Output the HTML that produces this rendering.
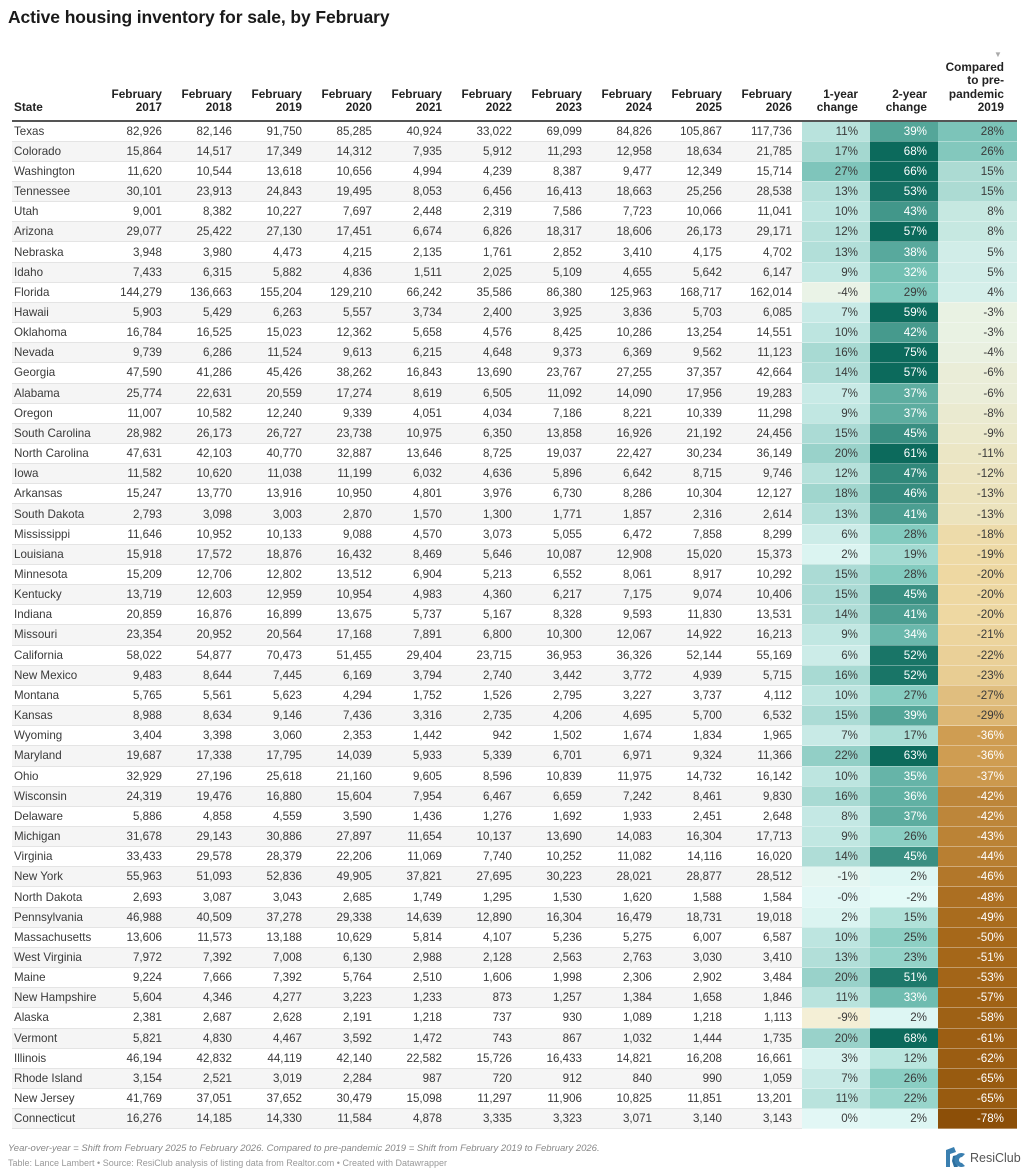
<!DOCTYPE html>
<html><head><meta charset="utf-8">
<style>
*{margin:0;padding:0;box-sizing:border-box}
body{width:1024px;height:1176px;background:#fff;font-family:"Liberation Sans",sans-serif;color:#333;position:relative;overflow:hidden}
h1{position:absolute;left:8px;top:7px;font-size:17.5px;font-weight:bold;color:#1a1a1a;letter-spacing:-0.1px}
.tri{position:absolute;left:994px;top:50px;font-size:8px;color:#aaa}
table{position:absolute;left:12px;top:56px;width:1005px;border-collapse:collapse;table-layout:fixed;font-size:11.6px}
thead th{font-weight:bold;color:#222;text-align:right;vertical-align:bottom;padding:0 10px 6px 0;line-height:13.2px;height:65px;border-bottom:2px solid #555;font-size:11.8px}
thead th.s{text-align:left;padding-left:2px}
tbody td{height:20.16px;text-align:right;padding:0 10px 0 0;border-bottom:1px solid #e4e4e4;white-space:nowrap;color:#3a3a3a}
tbody td.s{text-align:left;padding-left:2px}
tbody tr:nth-child(even){background:#f5f5f5}
td.ap,td.an,td.b,td.bb,td.cp,td.c1,td.c2,td.c3,td.c4{border-bottom:1px solid rgba(255,255,255,0.35)}
td.ap{background:color-mix(in srgb,#7fc5bb var(--p),#e2f7f5);padding-right:12px}
td.an{background:color-mix(in srgb,#f4efd6 var(--p),#e2f7f5);padding-right:12px}
td.b{background:color-mix(in srgb,#7cc7bb var(--p),#e4faf7);padding-right:11px}
td.bb{background:color-mix(in srgb,#0c6a5c var(--p),#7cc7bb);padding-right:11px}
td.cp{background:color-mix(in srgb,#7cc4b9 var(--p),#e4f6f2);padding-right:13px}
td.c1{background:color-mix(in srgb,#eed8a2 var(--p),#e8f6ef);padding-right:13px}
td.c2{background:color-mix(in srgb,#cf9d52 var(--p),#eed8a2);padding-right:13px}
td.c3{background:color-mix(in srgb,#a6681a var(--p),#cf9d52);padding-right:13px}
td.c4{background:color-mix(in srgb,#8c4f08 var(--p),#a6681a);padding-right:13px}
td.w{color:#fff}
.n1{position:absolute;left:8px;top:1143px;font-size:9.5px;font-style:italic;color:#888}
.n2{position:absolute;left:8px;top:1158px;font-size:9px;color:#999}
.logo{position:absolute;left:944px;top:1146px;width:22px;height:22px}
.lt{position:absolute;left:970px;top:1151px;font-size:12.5px;color:#555}
</style></head><body>
<h1>Active housing inventory for sale, by February</h1>
<div class="tri">▼</div>
<table>
<colgroup><col style="width:90px"><col style="width:70px"><col style="width:70px"><col style="width:70px"><col style="width:70px"><col style="width:70px"><col style="width:70px"><col style="width:70px"><col style="width:70px"><col style="width:70px"><col style="width:70px"><col style="width:68px"><col style="width:68px"><col style="width:79px"></colgroup>
<thead><tr><th class="s">State</th><th>February<br>2017</th><th>February<br>2018</th><th>February<br>2019</th><th>February<br>2020</th><th>February<br>2021</th><th>February<br>2022</th><th>February<br>2023</th><th>February<br>2024</th><th>February<br>2025</th><th>February<br>2026</th><th style="padding-right:12px">1-year<br>change</th><th style="padding-right:11px">2-year<br>change</th><th style="padding-right:13px">Compared<br>to pre-<br>pandemic<br>2019</th></tr></thead>
<tbody>
<tr><td class="s">Texas</td><td>82,926</td><td>82,146</td><td>91,750</td><td>85,285</td><td>40,924</td><td>33,022</td><td>69,099</td><td>84,826</td><td>105,867</td><td>117,736</td><td class="ap" style="--p:41%">11%</td><td class="bb w" style="--p:36%">39%</td><td class="cp" style="--p:100%">28%</td></tr>
<tr><td class="s">Colorado</td><td>15,864</td><td>14,517</td><td>17,349</td><td>14,312</td><td>7,935</td><td>5,912</td><td>11,293</td><td>12,958</td><td>18,634</td><td>21,785</td><td class="ap" style="--p:63%">17%</td><td class="bb w" style="--p:100%">68%</td><td class="cp" style="--p:93%">26%</td></tr>
<tr><td class="s">Washington</td><td>11,620</td><td>10,544</td><td>13,618</td><td>10,656</td><td>4,994</td><td>4,239</td><td>8,387</td><td>9,477</td><td>12,349</td><td>15,714</td><td class="ap" style="--p:100%">27%</td><td class="bb w" style="--p:100%">66%</td><td class="cp" style="--p:54%">15%</td></tr>
<tr><td class="s">Tennessee</td><td>30,101</td><td>23,913</td><td>24,843</td><td>19,495</td><td>8,053</td><td>6,456</td><td>16,413</td><td>18,663</td><td>25,256</td><td>28,538</td><td class="ap" style="--p:48%">13%</td><td class="bb w" style="--p:92%">53%</td><td class="cp" style="--p:54%">15%</td></tr>
<tr><td class="s">Utah</td><td>9,001</td><td>8,382</td><td>10,227</td><td>7,697</td><td>2,448</td><td>2,319</td><td>7,586</td><td>7,723</td><td>10,066</td><td>11,041</td><td class="ap" style="--p:37%">10%</td><td class="bb w" style="--p:52%">43%</td><td class="cp" style="--p:29%">8%</td></tr>
<tr><td class="s">Arizona</td><td>29,077</td><td>25,422</td><td>27,130</td><td>17,451</td><td>6,674</td><td>6,826</td><td>18,317</td><td>18,606</td><td>26,173</td><td>29,171</td><td class="ap" style="--p:44%">12%</td><td class="bb w" style="--p:100%">57%</td><td class="cp" style="--p:29%">8%</td></tr>
<tr><td class="s">Nebraska</td><td>3,948</td><td>3,980</td><td>4,473</td><td>4,215</td><td>2,135</td><td>1,761</td><td>2,852</td><td>3,410</td><td>4,175</td><td>4,702</td><td class="ap" style="--p:48%">13%</td><td class="bb w" style="--p:32%">38%</td><td class="cp" style="--p:18%">5%</td></tr>
<tr><td class="s">Idaho</td><td>7,433</td><td>6,315</td><td>5,882</td><td>4,836</td><td>1,511</td><td>2,025</td><td>5,109</td><td>4,655</td><td>5,642</td><td>6,147</td><td class="ap" style="--p:33%">9%</td><td class="bb w" style="--p:8%">32%</td><td class="cp" style="--p:18%">5%</td></tr>
<tr><td class="s">Florida</td><td>144,279</td><td>136,663</td><td>155,204</td><td>129,210</td><td>66,242</td><td>35,586</td><td>86,380</td><td>125,963</td><td>168,717</td><td>162,014</td><td class="an" style="--p:44%">-4%</td><td class="b" style="--p:97%">29%</td><td class="cp" style="--p:14%">4%</td></tr>
<tr><td class="s">Hawaii</td><td>5,903</td><td>5,429</td><td>6,263</td><td>5,557</td><td>3,734</td><td>2,400</td><td>3,925</td><td>3,836</td><td>5,703</td><td>6,085</td><td class="ap" style="--p:26%">7%</td><td class="bb w" style="--p:100%">59%</td><td class="c1" style="--p:15%">-3%</td></tr>
<tr><td class="s">Oklahoma</td><td>16,784</td><td>16,525</td><td>15,023</td><td>12,362</td><td>5,658</td><td>4,576</td><td>8,425</td><td>10,286</td><td>13,254</td><td>14,551</td><td class="ap" style="--p:37%">10%</td><td class="bb w" style="--p:48%">42%</td><td class="c1" style="--p:15%">-3%</td></tr>
<tr><td class="s">Nevada</td><td>9,739</td><td>6,286</td><td>11,524</td><td>9,613</td><td>6,215</td><td>4,648</td><td>9,373</td><td>6,369</td><td>9,562</td><td>11,123</td><td class="ap" style="--p:59%">16%</td><td class="bb w" style="--p:100%">75%</td><td class="c1" style="--p:20%">-4%</td></tr>
<tr><td class="s">Georgia</td><td>47,590</td><td>41,286</td><td>45,426</td><td>38,262</td><td>16,843</td><td>13,690</td><td>23,767</td><td>27,255</td><td>37,357</td><td>42,664</td><td class="ap" style="--p:52%">14%</td><td class="bb w" style="--p:100%">57%</td><td class="c1" style="--p:30%">-6%</td></tr>
<tr><td class="s">Alabama</td><td>25,774</td><td>22,631</td><td>20,559</td><td>17,274</td><td>8,619</td><td>6,505</td><td>11,092</td><td>14,090</td><td>17,956</td><td>19,283</td><td class="ap" style="--p:26%">7%</td><td class="bb w" style="--p:28%">37%</td><td class="c1" style="--p:30%">-6%</td></tr>
<tr><td class="s">Oregon</td><td>11,007</td><td>10,582</td><td>12,240</td><td>9,339</td><td>4,051</td><td>4,034</td><td>7,186</td><td>8,221</td><td>10,339</td><td>11,298</td><td class="ap" style="--p:33%">9%</td><td class="bb w" style="--p:28%">37%</td><td class="c1" style="--p:40%">-8%</td></tr>
<tr><td class="s">South Carolina</td><td>28,982</td><td>26,173</td><td>26,727</td><td>23,738</td><td>10,975</td><td>6,350</td><td>13,858</td><td>16,926</td><td>21,192</td><td>24,456</td><td class="ap" style="--p:56%">15%</td><td class="bb w" style="--p:60%">45%</td><td class="c1" style="--p:45%">-9%</td></tr>
<tr><td class="s">North Carolina</td><td>47,631</td><td>42,103</td><td>40,770</td><td>32,887</td><td>13,646</td><td>8,725</td><td>19,037</td><td>22,427</td><td>30,234</td><td>36,149</td><td class="ap" style="--p:74%">20%</td><td class="bb w" style="--p:100%">61%</td><td class="c1" style="--p:55%">-11%</td></tr>
<tr><td class="s">Iowa</td><td>11,582</td><td>10,620</td><td>11,038</td><td>11,199</td><td>6,032</td><td>4,636</td><td>5,896</td><td>6,642</td><td>8,715</td><td>9,746</td><td class="ap" style="--p:44%">12%</td><td class="bb w" style="--p:68%">47%</td><td class="c1" style="--p:60%">-12%</td></tr>
<tr><td class="s">Arkansas</td><td>15,247</td><td>13,770</td><td>13,916</td><td>10,950</td><td>4,801</td><td>3,976</td><td>6,730</td><td>8,286</td><td>10,304</td><td>12,127</td><td class="ap" style="--p:67%">18%</td><td class="bb w" style="--p:64%">46%</td><td class="c1" style="--p:65%">-13%</td></tr>
<tr><td class="s">South Dakota</td><td>2,793</td><td>3,098</td><td>3,003</td><td>2,870</td><td>1,570</td><td>1,300</td><td>1,771</td><td>1,857</td><td>2,316</td><td>2,614</td><td class="ap" style="--p:48%">13%</td><td class="bb w" style="--p:44%">41%</td><td class="c1" style="--p:65%">-13%</td></tr>
<tr><td class="s">Mississippi</td><td>11,646</td><td>10,952</td><td>10,133</td><td>9,088</td><td>4,570</td><td>3,073</td><td>5,055</td><td>6,472</td><td>7,858</td><td>8,299</td><td class="ap" style="--p:22%">6%</td><td class="b" style="--p:93%">28%</td><td class="c1" style="--p:90%">-18%</td></tr>
<tr><td class="s">Louisiana</td><td>15,918</td><td>17,572</td><td>18,876</td><td>16,432</td><td>8,469</td><td>5,646</td><td>10,087</td><td>12,908</td><td>15,020</td><td>15,373</td><td class="ap" style="--p:7%">2%</td><td class="b" style="--p:63%">19%</td><td class="c1" style="--p:95%">-19%</td></tr>
<tr><td class="s">Minnesota</td><td>15,209</td><td>12,706</td><td>12,802</td><td>13,512</td><td>6,904</td><td>5,213</td><td>6,552</td><td>8,061</td><td>8,917</td><td>10,292</td><td class="ap" style="--p:56%">15%</td><td class="b" style="--p:93%">28%</td><td class="c1" style="--p:100%">-20%</td></tr>
<tr><td class="s">Kentucky</td><td>13,719</td><td>12,603</td><td>12,959</td><td>10,954</td><td>4,983</td><td>4,360</td><td>6,217</td><td>7,175</td><td>9,074</td><td>10,406</td><td class="ap" style="--p:56%">15%</td><td class="bb w" style="--p:60%">45%</td><td class="c1" style="--p:100%">-20%</td></tr>
<tr><td class="s">Indiana</td><td>20,859</td><td>16,876</td><td>16,899</td><td>13,675</td><td>5,737</td><td>5,167</td><td>8,328</td><td>9,593</td><td>11,830</td><td>13,531</td><td class="ap" style="--p:52%">14%</td><td class="bb w" style="--p:44%">41%</td><td class="c1" style="--p:100%">-20%</td></tr>
<tr><td class="s">Missouri</td><td>23,354</td><td>20,952</td><td>20,564</td><td>17,168</td><td>7,891</td><td>6,800</td><td>10,300</td><td>12,067</td><td>14,922</td><td>16,213</td><td class="ap" style="--p:33%">9%</td><td class="bb w" style="--p:16%">34%</td><td class="c2" style="--p:6%">-21%</td></tr>
<tr><td class="s">California</td><td>58,022</td><td>54,877</td><td>70,473</td><td>51,455</td><td>29,404</td><td>23,715</td><td>36,953</td><td>36,326</td><td>52,144</td><td>55,169</td><td class="ap" style="--p:22%">6%</td><td class="bb w" style="--p:88%">52%</td><td class="c2" style="--p:13%">-22%</td></tr>
<tr><td class="s">New Mexico</td><td>9,483</td><td>8,644</td><td>7,445</td><td>6,169</td><td>3,794</td><td>2,740</td><td>3,442</td><td>3,772</td><td>4,939</td><td>5,715</td><td class="ap" style="--p:59%">16%</td><td class="bb w" style="--p:88%">52%</td><td class="c2" style="--p:19%">-23%</td></tr>
<tr><td class="s">Montana</td><td>5,765</td><td>5,561</td><td>5,623</td><td>4,294</td><td>1,752</td><td>1,526</td><td>2,795</td><td>3,227</td><td>3,737</td><td>4,112</td><td class="ap" style="--p:37%">10%</td><td class="b" style="--p:90%">27%</td><td class="c2" style="--p:44%">-27%</td></tr>
<tr><td class="s">Kansas</td><td>8,988</td><td>8,634</td><td>9,146</td><td>7,436</td><td>3,316</td><td>2,735</td><td>4,206</td><td>4,695</td><td>5,700</td><td>6,532</td><td class="ap" style="--p:56%">15%</td><td class="bb w" style="--p:36%">39%</td><td class="c2" style="--p:56%">-29%</td></tr>
<tr><td class="s">Wyoming</td><td>3,404</td><td>3,398</td><td>3,060</td><td>2,353</td><td>1,442</td><td>942</td><td>1,502</td><td>1,674</td><td>1,834</td><td>1,965</td><td class="ap" style="--p:26%">7%</td><td class="b" style="--p:57%">17%</td><td class="c2 w" style="--p:100%">-36%</td></tr>
<tr><td class="s">Maryland</td><td>19,687</td><td>17,338</td><td>17,795</td><td>14,039</td><td>5,933</td><td>5,339</td><td>6,701</td><td>6,971</td><td>9,324</td><td>11,366</td><td class="ap" style="--p:81%">22%</td><td class="bb w" style="--p:100%">63%</td><td class="c2 w" style="--p:100%">-36%</td></tr>
<tr><td class="s">Ohio</td><td>32,929</td><td>27,196</td><td>25,618</td><td>21,160</td><td>9,605</td><td>8,596</td><td>10,839</td><td>11,975</td><td>14,732</td><td>16,142</td><td class="ap" style="--p:37%">10%</td><td class="bb w" style="--p:20%">35%</td><td class="c3 w" style="--p:7%">-37%</td></tr>
<tr><td class="s">Wisconsin</td><td>24,319</td><td>19,476</td><td>16,880</td><td>15,604</td><td>7,954</td><td>6,467</td><td>6,659</td><td>7,242</td><td>8,461</td><td>9,830</td><td class="ap" style="--p:59%">16%</td><td class="bb w" style="--p:24%">36%</td><td class="c3 w" style="--p:43%">-42%</td></tr>
<tr><td class="s">Delaware</td><td>5,886</td><td>4,858</td><td>4,559</td><td>3,590</td><td>1,436</td><td>1,276</td><td>1,692</td><td>1,933</td><td>2,451</td><td>2,648</td><td class="ap" style="--p:30%">8%</td><td class="bb w" style="--p:28%">37%</td><td class="c3 w" style="--p:43%">-42%</td></tr>
<tr><td class="s">Michigan</td><td>31,678</td><td>29,143</td><td>30,886</td><td>27,897</td><td>11,654</td><td>10,137</td><td>13,690</td><td>14,083</td><td>16,304</td><td>17,713</td><td class="ap" style="--p:33%">9%</td><td class="b" style="--p:87%">26%</td><td class="c3 w" style="--p:50%">-43%</td></tr>
<tr><td class="s">Virginia</td><td>33,433</td><td>29,578</td><td>28,379</td><td>22,206</td><td>11,069</td><td>7,740</td><td>10,252</td><td>11,082</td><td>14,116</td><td>16,020</td><td class="ap" style="--p:52%">14%</td><td class="bb w" style="--p:60%">45%</td><td class="c3 w" style="--p:57%">-44%</td></tr>
<tr><td class="s">New York</td><td>55,963</td><td>51,093</td><td>52,836</td><td>49,905</td><td>37,821</td><td>27,695</td><td>30,223</td><td>28,021</td><td>28,877</td><td>28,512</td><td class="an" style="--p:11%">-1%</td><td class="b" style="--p:7%">2%</td><td class="c3 w" style="--p:71%">-46%</td></tr>
<tr><td class="s">North Dakota</td><td>2,693</td><td>3,087</td><td>3,043</td><td>2,685</td><td>1,749</td><td>1,295</td><td>1,530</td><td>1,620</td><td>1,588</td><td>1,584</td><td class="an" style="--p:0%">-0%</td><td class="b" style="--p:0%">-2%</td><td class="c3 w" style="--p:86%">-48%</td></tr>
<tr><td class="s">Pennsylvania</td><td>46,988</td><td>40,509</td><td>37,278</td><td>29,338</td><td>14,639</td><td>12,890</td><td>16,304</td><td>16,479</td><td>18,731</td><td>19,018</td><td class="ap" style="--p:7%">2%</td><td class="b" style="--p:50%">15%</td><td class="c3 w" style="--p:93%">-49%</td></tr>
<tr><td class="s">Massachusetts</td><td>13,606</td><td>11,573</td><td>13,188</td><td>10,629</td><td>5,814</td><td>4,107</td><td>5,236</td><td>5,275</td><td>6,007</td><td>6,587</td><td class="ap" style="--p:37%">10%</td><td class="b" style="--p:83%">25%</td><td class="c3 w" style="--p:100%">-50%</td></tr>
<tr><td class="s">West Virginia</td><td>7,972</td><td>7,392</td><td>7,008</td><td>6,130</td><td>2,988</td><td>2,128</td><td>2,563</td><td>2,763</td><td>3,030</td><td>3,410</td><td class="ap" style="--p:48%">13%</td><td class="b" style="--p:77%">23%</td><td class="c4 w" style="--p:4%">-51%</td></tr>
<tr><td class="s">Maine</td><td>9,224</td><td>7,666</td><td>7,392</td><td>5,764</td><td>2,510</td><td>1,606</td><td>1,998</td><td>2,306</td><td>2,902</td><td>3,484</td><td class="ap" style="--p:74%">20%</td><td class="bb w" style="--p:84%">51%</td><td class="c4 w" style="--p:11%">-53%</td></tr>
<tr><td class="s">New Hampshire</td><td>5,604</td><td>4,346</td><td>4,277</td><td>3,223</td><td>1,233</td><td>873</td><td>1,257</td><td>1,384</td><td>1,658</td><td>1,846</td><td class="ap" style="--p:41%">11%</td><td class="bb w" style="--p:12%">33%</td><td class="c4 w" style="--p:25%">-57%</td></tr>
<tr><td class="s">Alaska</td><td>2,381</td><td>2,687</td><td>2,628</td><td>2,191</td><td>1,218</td><td>737</td><td>930</td><td>1,089</td><td>1,218</td><td>1,113</td><td class="an" style="--p:100%">-9%</td><td class="b" style="--p:7%">2%</td><td class="c4 w" style="--p:29%">-58%</td></tr>
<tr><td class="s">Vermont</td><td>5,821</td><td>4,830</td><td>4,467</td><td>3,592</td><td>1,472</td><td>743</td><td>867</td><td>1,032</td><td>1,444</td><td>1,735</td><td class="ap" style="--p:74%">20%</td><td class="bb w" style="--p:100%">68%</td><td class="c4 w" style="--p:39%">-61%</td></tr>
<tr><td class="s">Illinois</td><td>46,194</td><td>42,832</td><td>44,119</td><td>42,140</td><td>22,582</td><td>15,726</td><td>16,433</td><td>14,821</td><td>16,208</td><td>16,661</td><td class="ap" style="--p:11%">3%</td><td class="b" style="--p:40%">12%</td><td class="c4 w" style="--p:43%">-62%</td></tr>
<tr><td class="s">Rhode Island</td><td>3,154</td><td>2,521</td><td>3,019</td><td>2,284</td><td>987</td><td>720</td><td>912</td><td>840</td><td>990</td><td>1,059</td><td class="ap" style="--p:26%">7%</td><td class="b" style="--p:87%">26%</td><td class="c4 w" style="--p:54%">-65%</td></tr>
<tr><td class="s">New Jersey</td><td>41,769</td><td>37,051</td><td>37,652</td><td>30,479</td><td>15,098</td><td>11,297</td><td>11,906</td><td>10,825</td><td>11,851</td><td>13,201</td><td class="ap" style="--p:41%">11%</td><td class="b" style="--p:73%">22%</td><td class="c4 w" style="--p:54%">-65%</td></tr>
<tr><td class="s">Connecticut</td><td>16,276</td><td>14,185</td><td>14,330</td><td>11,584</td><td>4,878</td><td>3,335</td><td>3,323</td><td>3,071</td><td>3,140</td><td>3,143</td><td class="ap" style="--p:0%">0%</td><td class="b" style="--p:7%">2%</td><td class="c4 w" style="--p:100%">-78%</td></tr>
</tbody></table>
<div class="n1">Year-over-year = Shift from February 2025 to February 2026. Compared to pre-pandemic 2019 = Shift from February 2019 to February 2026.</div>
<div class="n2">Table: Lance Lambert • Source: ResiClub analysis of listing data from Realtor.com • Created with Datawrapper</div>
<svg class="logo" viewBox="0 0 22 22"><path d="M2 4 L10 1 L12 6 L6 8 L6 21 L2 21 Z" fill="#3a7fb0"/><path d="M9 10 L13 9 L11 15 L14 21 L10 21 L8 15 Z" fill="#2d6f9e"/><path d="M21 8 A7 7 0 1 0 21 20 L18 17 A3 3 0 1 1 18 11 Z" fill="#3a7fb0"/></svg>
<div class="lt">ResiClub</div>
</body></html>
